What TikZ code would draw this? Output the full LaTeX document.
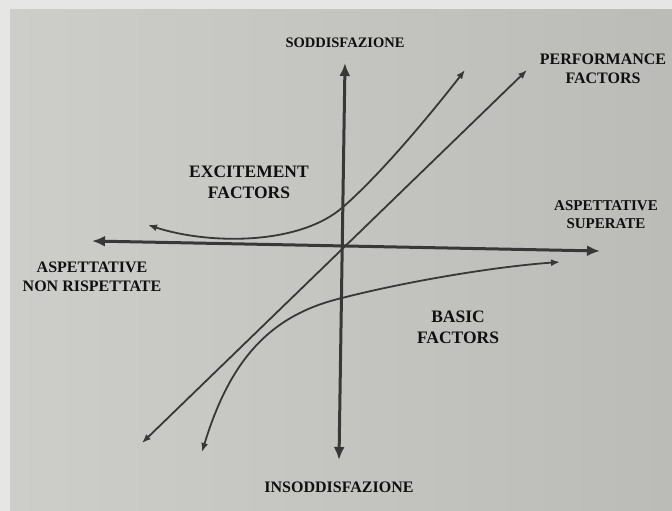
\documentclass[tikz,border=0pt]{standalone}
\usepackage{fontspec}
\setmainfont{Liberation Serif}
\usepackage{tikz}
\usetikzlibrary{arrows.meta,positioning}
\definecolor{pagelight}{HTML}{CDCDCA}
\definecolor{pagedark}{HTML}{BBBBB8}
\definecolor{pageedge}{HTML}{E6E6E4}
\definecolor{inkgray}{HTML}{383838}
\definecolor{labelink}{HTML}{101010}
\tikzset{
  axisline/.style={{Latex[length=13pt,width=11pt]}-{Latex[length=13pt,width=11pt]},
    line width=3pt, color=inkgray},
  curveline/.style={{Latex[length=9pt,width=7pt]}-{Latex[length=9pt,width=7pt]},
    line width=1.8pt, color=inkgray},
  axislabel/.style={inner sep=0pt, align=center, text=labelink,
    font=\fontsize{15}{18}\selectfont\bfseries},
  biglabel/.style={font=\fontsize{16}{19}\selectfont\bfseries},
  factorlabel/.style={inner sep=0pt, align=center, text=labelink,
    font=\fontsize{16}{19}\selectfont\bfseries},
  widelabel/.style={font=\fontsize{17.5}{21}\selectfont\bfseries},
}
\begin{document}
\begin{tikzpicture}[x=1pt, y=-1pt]
  \useasboundingbox (0,0) rectangle (672,511);
  \fill[pageedge] (0,0) rectangle (672,511);
  \shade[left color=pagelight, right color=pagedark] (10,10) rectangle (672,511);

  \coordinate (satTop) at (345,63);
  \coordinate (satBot) at (339,460);
  \coordinate (expLow) at (92,241);
  \coordinate (expHigh) at (600,251);
  \coordinate (perfLow) at (142,443);
  \coordinate (perfHigh) at (527,70);
  \coordinate (excLow) at (148,225);
  \coordinate (excMid) at (343,207);
  \coordinate (excHigh) at (465,70);
  \coordinate (basLow) at (202,452);
  \coordinate (basMid) at (342,298);
  \coordinate (basHigh) at (560,262);

  \draw[axisline] (satBot) -- (satTop);
  \draw[axisline] (expLow) -- (expHigh);

  \draw[curveline] (perfLow) -- (perfHigh);
  \draw[curveline] (excLow) .. controls (210,245) and (300,245) .. (excMid)
    .. controls (380,175) and (430,115) .. (excHigh);
  \draw[curveline] (basLow) .. controls (230,360) and (270,315) .. (basMid)
    .. controls (400,283) and (490,267) .. (basHigh);

  \node[axislabel, font=\fontsize{14.5}{18}\selectfont\bfseries, above=15pt of satTop] (satLabel) {SODDISFAZIONE};
  \node[axislabel, biglabel, below=22pt of satBot] (dissatLabel) {INSODDISFAZIONE};
  \node[axislabel, above=22pt of expHigh, xshift=6pt] (overLabel) {ASPETTATIVE\\SUPERATE};
  \node[axislabel, biglabel, below=21pt of expLow] (underLabel) {ASPETTATIVE\\NON RISPETTATE};

  \node[factorlabel] (perfLabel) at (603,69) {PERFORMANCE\\FACTORS};
  \node[factorlabel, widelabel] (excLabel) at (249,182) {EXCITEMENT\\FACTORS};
  \node[factorlabel, widelabel] (basLabel) at (458,327) {BASIC\\FACTORS};
\end{tikzpicture}
\end{document}
